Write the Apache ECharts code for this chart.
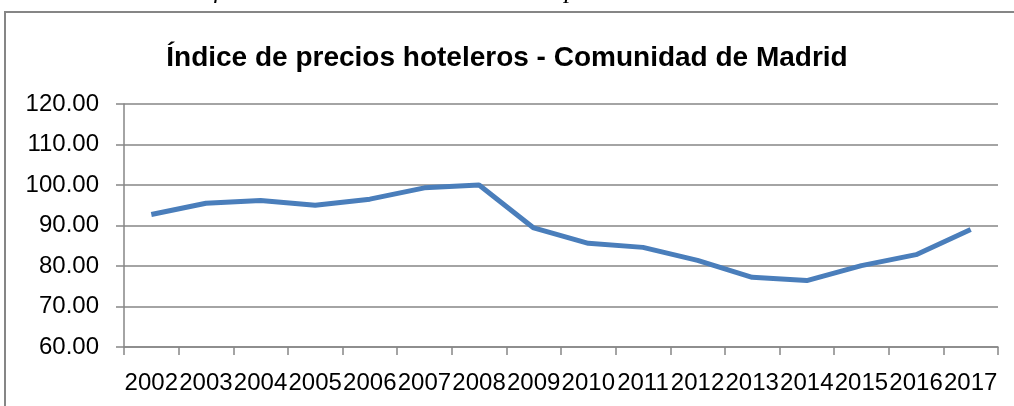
<!DOCTYPE html>
<html>
<head>
<meta charset="utf-8">
<script src="https://cdn.jsdelivr.net/npm/echarts@6/dist/echarts.min.js"></script>
<style>
  html, body { margin: 0; padding: 0; background: #fff; }
  #chart { width: 1014px; height: 406px; }
</style>
</head>
<body>
<div id="chart"></div>
<script>
// Índice de precios hoteleros - Comunidad de Madrid
var years = ['2002', '2003', '2004', '2005', '2006', '2007', '2008', '2009',
             '2010', '2011', '2012', '2013', '2014', '2015', '2016', '2017'];
var indice = [92.7, 95.5, 96.2, 95.0, 96.5, 99.3, 100.0, 89.4,
              85.6, 84.6, 81.4, 77.2, 76.4, 80.1, 82.8, 89.0];
var yMin = 60, yMax = 120, yStep = 10;

var gris = '#868686';
var azul = '#4a7ebb';

var chart = echarts.init(document.getElementById('chart'));

chart.setOption({
  animation: false,
  backgroundColor: '#fff',
  title: {
    text: 'Índice de precios hoteleros - Comunidad de Madrid',
    left: 'center',
    top: 39,
    textStyle: { fontFamily: 'Liberation Sans', fontWeight: 'bold', fontSize: 28, color: '#000' }
  },
  graphic: [
    {
      type: 'text', left: 'center', top: -22,
      style: {
        text: 'Gráfico 3.6 - Evolución del índice de precios hoteleros - Madrid',
        font: 'italic 26px "Liberation Serif"', fill: '#000'
      }
    },
    {
      type: 'rect', shape: { x: 5, y: 12, width: 1030, height: 420 },
      style: { fill: 'none', stroke: gris, lineWidth: 2 }
    }
  ],
  grid: { left: 124, right: 16, top: 104, bottom: 59 },
  xAxis: {
    type: 'category',
    data: years,
    boundaryGap: true,
    axisLine: { lineStyle: { color: gris, width: 1.5 } },
    axisTick: { show: true, length: 8, lineStyle: { color: gris, width: 1.5 } },
    axisLabel: { interval: 0, margin: 24, color: '#000', fontFamily: 'Liberation Sans', fontSize: 24 }
  },
  yAxis: {
    type: 'value',
    min: yMin, max: yMax, interval: yStep,
    axisLine: { show: true, lineStyle: { color: gris, width: 1.5 } },
    axisTick: { show: true, length: 8, lineStyle: { color: gris, width: 1.5 } },
    splitLine: { lineStyle: { color: gris, width: 1.5 } },
    axisLabel: {
      margin: 25, color: '#000', fontFamily: 'Liberation Sans', fontSize: 24,
      formatter: function (v) { return v.toFixed(2); }
    }
  },
  series: [{
    name: 'Índice',
    type: 'line',
    data: indice,
    showSymbol: false,
    lineStyle: { color: azul, width: 5 },
    itemStyle: { color: azul }
  }]
});
</script>
</body>
</html>
